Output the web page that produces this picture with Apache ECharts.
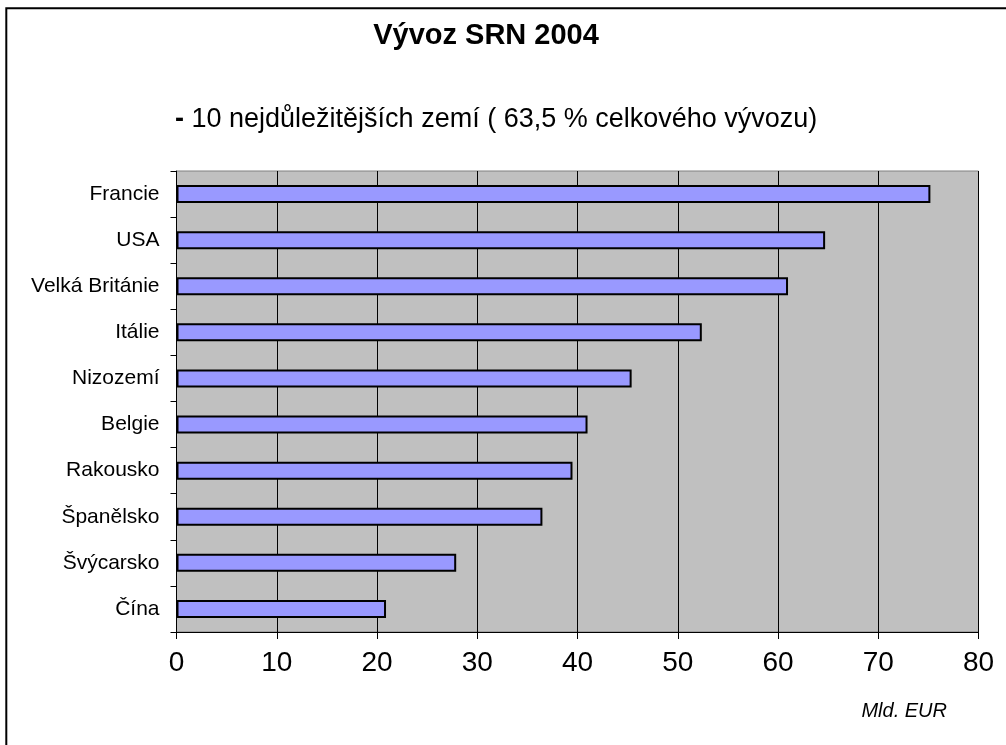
<!DOCTYPE html>
<html>
<head>
<meta charset="utf-8">
<title>Vývoz SRN 2004</title>
<script src="https://cdn.jsdelivr.net/npm/echarts@6/dist/echarts.min.js"></script>
<style>
  html, body { margin: 0; padding: 0; background: #fff; }
  #chart { width: 1006px; height: 745px; }
</style>
</head>
<body>
<div id="chart"></div>
<script>
// data (Mld. EUR)
var countries = ['Francie', 'USA', 'Velká Británie', 'Itálie', 'Nizozemí', 'Belgie', 'Rakousko', 'Španělsko', 'Švýcarsko', 'Čína'];
var exports2004 = [75.2, 64.7, 61.0, 52.4, 45.4, 41.0, 39.5, 36.5, 27.9, 20.9];
var xTicks = [0, 10, 20, 30, 40, 50, 60, 70, 80];

var font = '"Liberation Sans", Arial, sans-serif';
var myChart = echarts.init(document.getElementById('chart'));

var option = {
    backgroundColor: '#fff',
    animation: false,
    textStyle: { fontFamily: font, color: '#000' },
    graphic: [
        // outer frame (cut off at right / bottom like in the picture)
        {
            type: 'rect',
            shape: { x: 6.3, y: 8.3, width: 1200, height: 1000 },
            style: { fill: null, stroke: '#000', lineWidth: 2 },
            silent: true
        },
        {
            type: 'text',
            x: 486, y: 36,
            style: {
                text: 'Vývoz SRN 2004',
                font: 'bold 29px ' + font,
                fill: '#000',
                align: 'center',
                verticalAlign: 'middle'
            }
        },
        {
            type: 'text',
            x: 175, y: 120,
            style: {
                text: '{b|-} 10 nejdůležitějších zemí ( 63,5 % celkového vývozu)',
                font: '27px ' + font,
                fill: '#000',
                align: 'left',
                verticalAlign: 'middle',
                rich: {
                    b: { fontWeight: 'bold', fontSize: 27, fontFamily: font }
                }
            }
        },
        {
            type: 'text',
            x: 947, y: 711,
            style: {
                text: 'Mld. EUR',
                font: 'italic 20px ' + font,
                fill: '#000',
                align: 'right',
                verticalAlign: 'middle'
            }
        }
    ],
    grid: {
        left: 176.5,
        right: 27.5,
        top: 171,
        bottom: 113,
        show: true,
        backgroundColor: '#c0c0c0',
        borderColor: '#808080',
        borderWidth: 1
    },
    xAxis: {
        type: 'value',
        min: xTicks[0],
        max: xTicks[xTicks.length - 1],
        interval: xTicks[1] - xTicks[0],
        axisLine: { show: true, lineStyle: { color: '#000', width: 1 } },
        axisTick: { show: true, length: 7, lineStyle: { color: '#000' } },
        axisLabel: { fontSize: 28, color: '#000', margin: 17, fontFamily: font },
        splitLine: { show: true, lineStyle: { color: '#000', width: 1 } }
    },
    yAxis: {
        type: 'category',
        inverse: true,
        data: countries,
        axisLine: { show: true, lineStyle: { color: '#000', width: 1 } },
        axisTick: { show: true, length: 6, lineStyle: { color: '#000' } },
        axisLabel: { fontSize: 21, color: '#000', margin: 17, fontFamily: font },
        splitLine: { show: false }
    },
    series: [
        {
            name: 'Vývoz',
            type: 'bar',
            data: exports2004,
            barWidth: 18,
            itemStyle: {
                color: '#9999ff',
                borderColor: '#000',
                borderWidth: 2
            }
        }
    ]
};

myChart.setOption(option);
</script>
</body>
</html>
